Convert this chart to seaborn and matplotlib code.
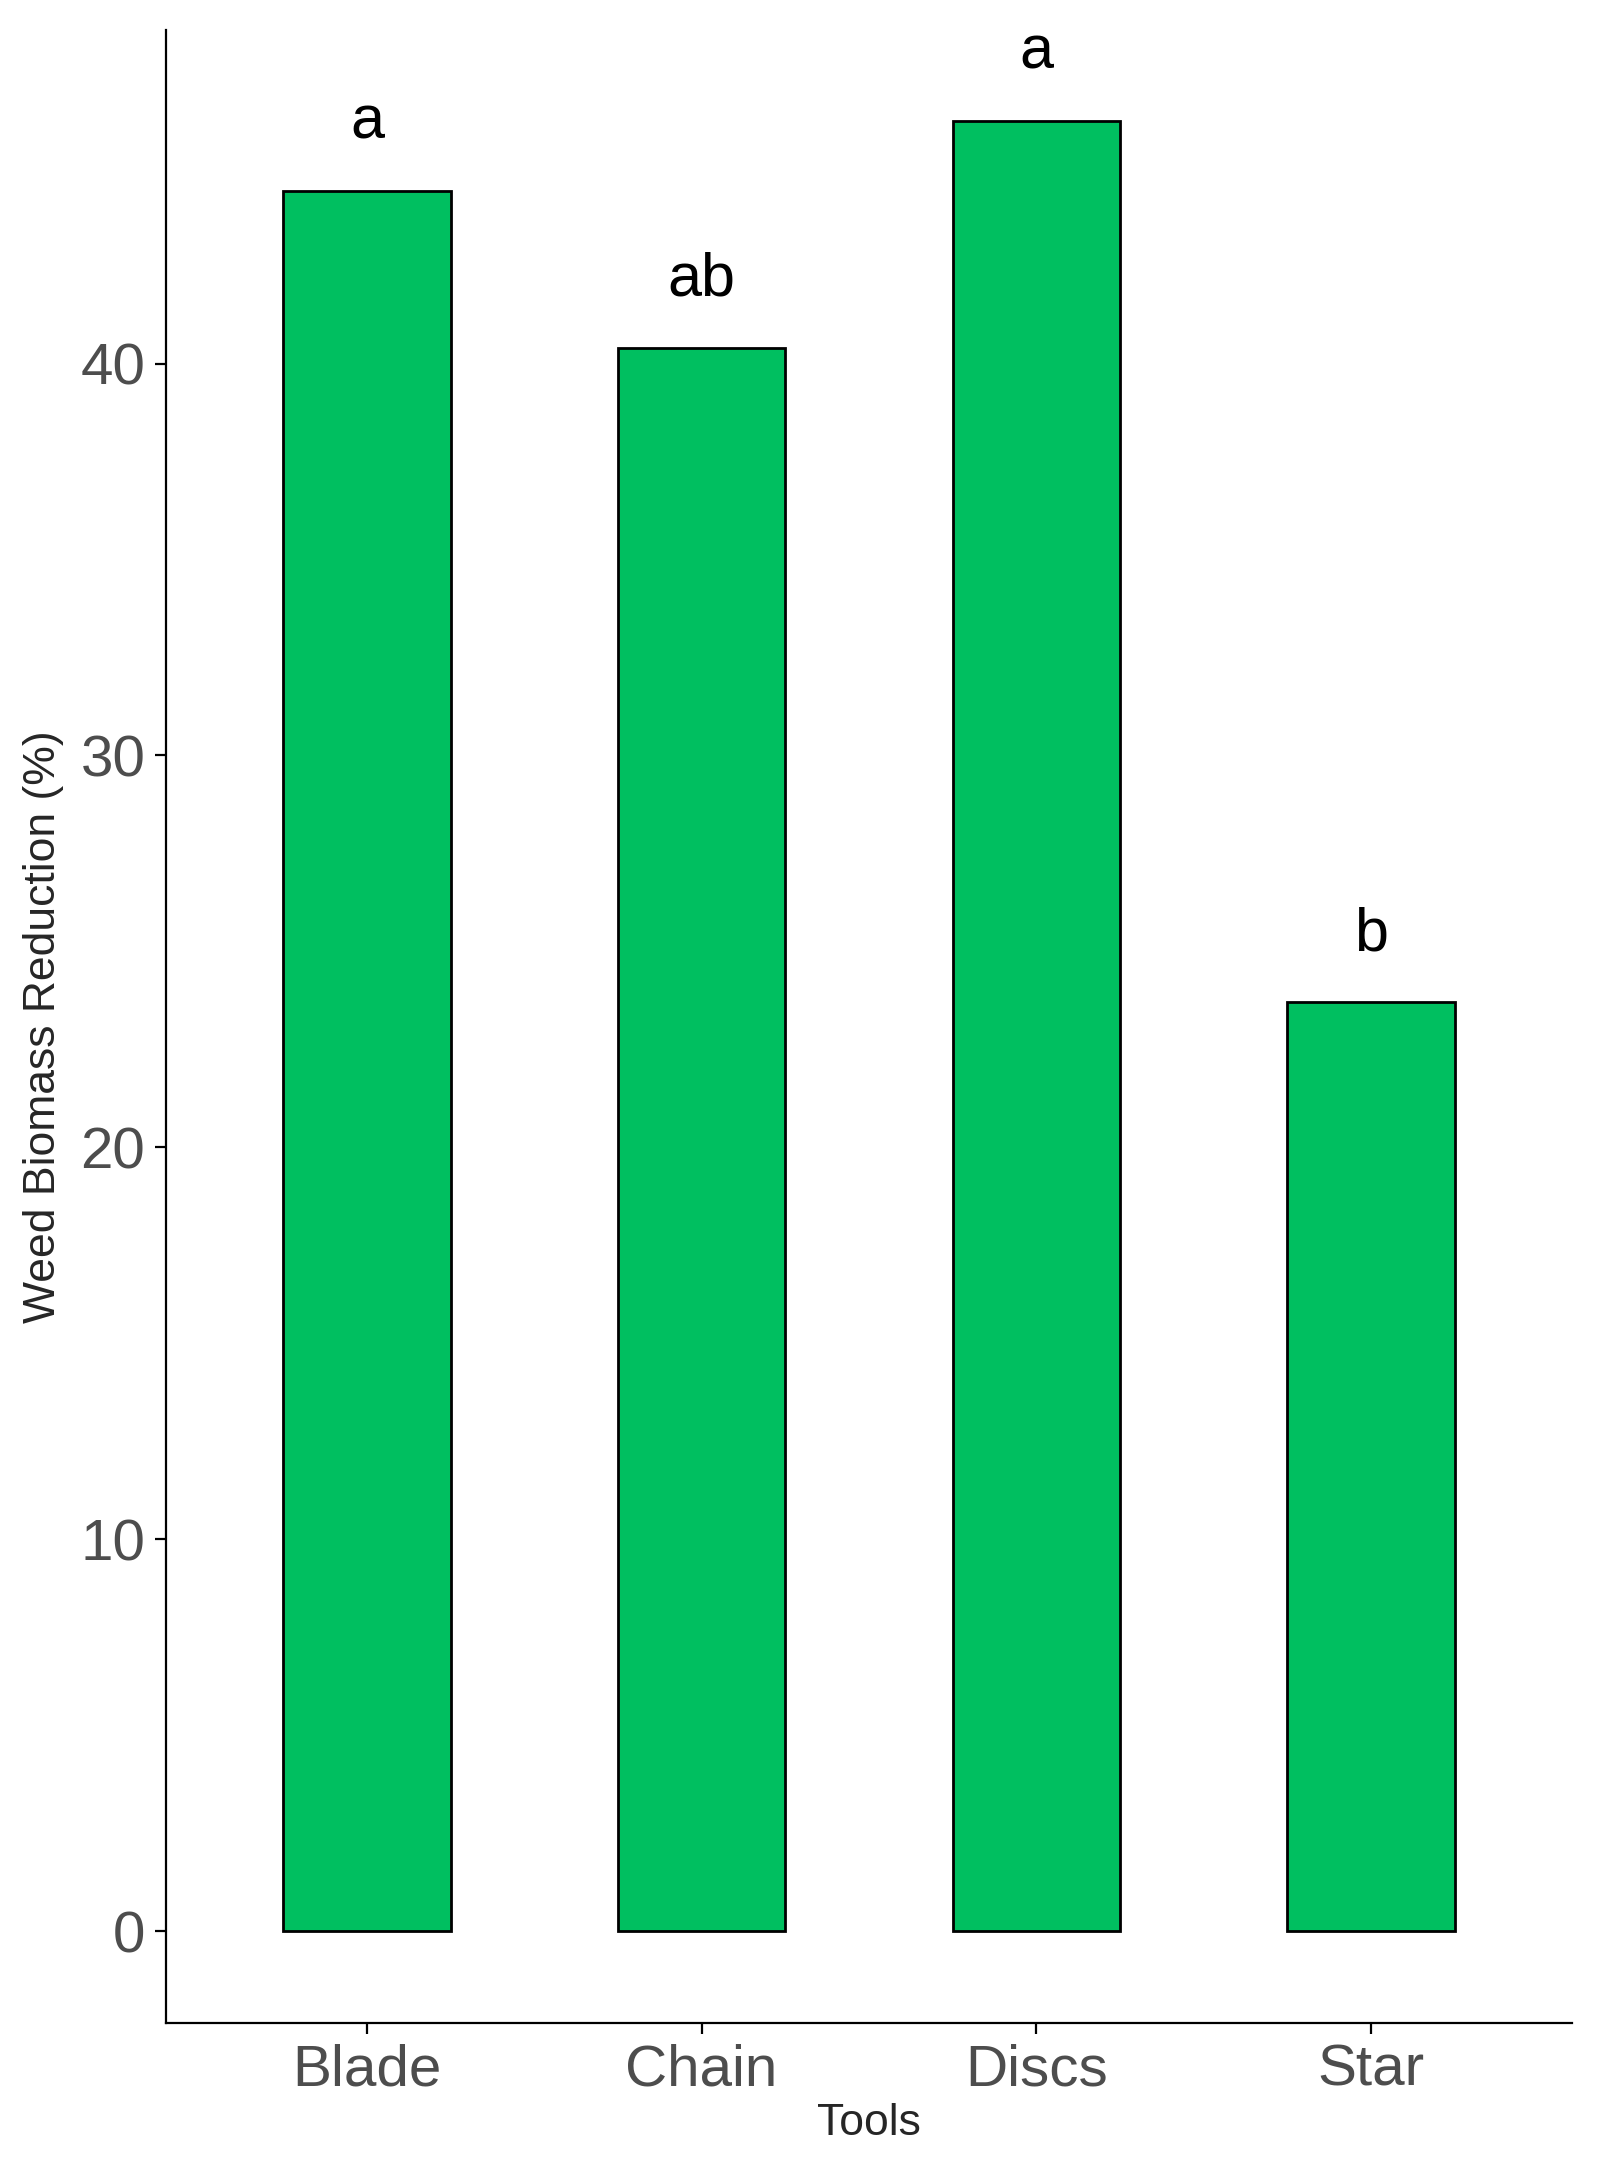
import matplotlib
matplotlib.use("Agg")
import matplotlib.pyplot as plt
import seaborn as sns
import pandas as pd

tools = ["Blade", "Chain", "Discs", "Star"]
reduction = [44.4, 40.4, 46.2, 23.7]
letters = ["a", "ab", "a", "b"]

sns.set_style("white")
plt.rcParams['font.family'] = ['Liberation Sans', 'DejaVu Sans']

df = pd.DataFrame({"Tools": tools, "Reduction": reduction})
fig = plt.figure(figsize=(8.035, 10.84), dpi=200)
ax = fig.add_axes([0.1034, 0.067, 0.8746, 0.919])
sns.barplot(data=df, x="Tools", y="Reduction", color="#00BF60", saturation=1,
            width=0.5, edgecolor="black", linewidth=1.0, ax=ax)
for i, (v, l) in enumerate(zip(reduction, letters)):
    ax.text(i, v + 1.0, l, ha="center", va="bottom", fontsize=22, color="black")
ax.set_xlim(-0.6, 3.6)
ax.set_ylim(-2.33, 48.5)
ax.set_yticks([0, 10, 20, 30, 40])
ax.tick_params(axis="both", labelsize=21, labelcolor="#4D4D4D", length=4,
               width=0.8, color="black", bottom=True, left=True)
ax.set_xlabel("Tools", fontsize=16, labelpad=2)
ax.set_ylabel("Weed Biomass Reduction (%)", fontsize=16, labelpad=6)
for s in ["top", "right"]:
    ax.spines[s].set_visible(False)
for s in ["left", "bottom"]:
    ax.spines[s].set_color("black")
    ax.spines[s].set_linewidth(0.8)
fig.savefig("out.png", dpi=200)
